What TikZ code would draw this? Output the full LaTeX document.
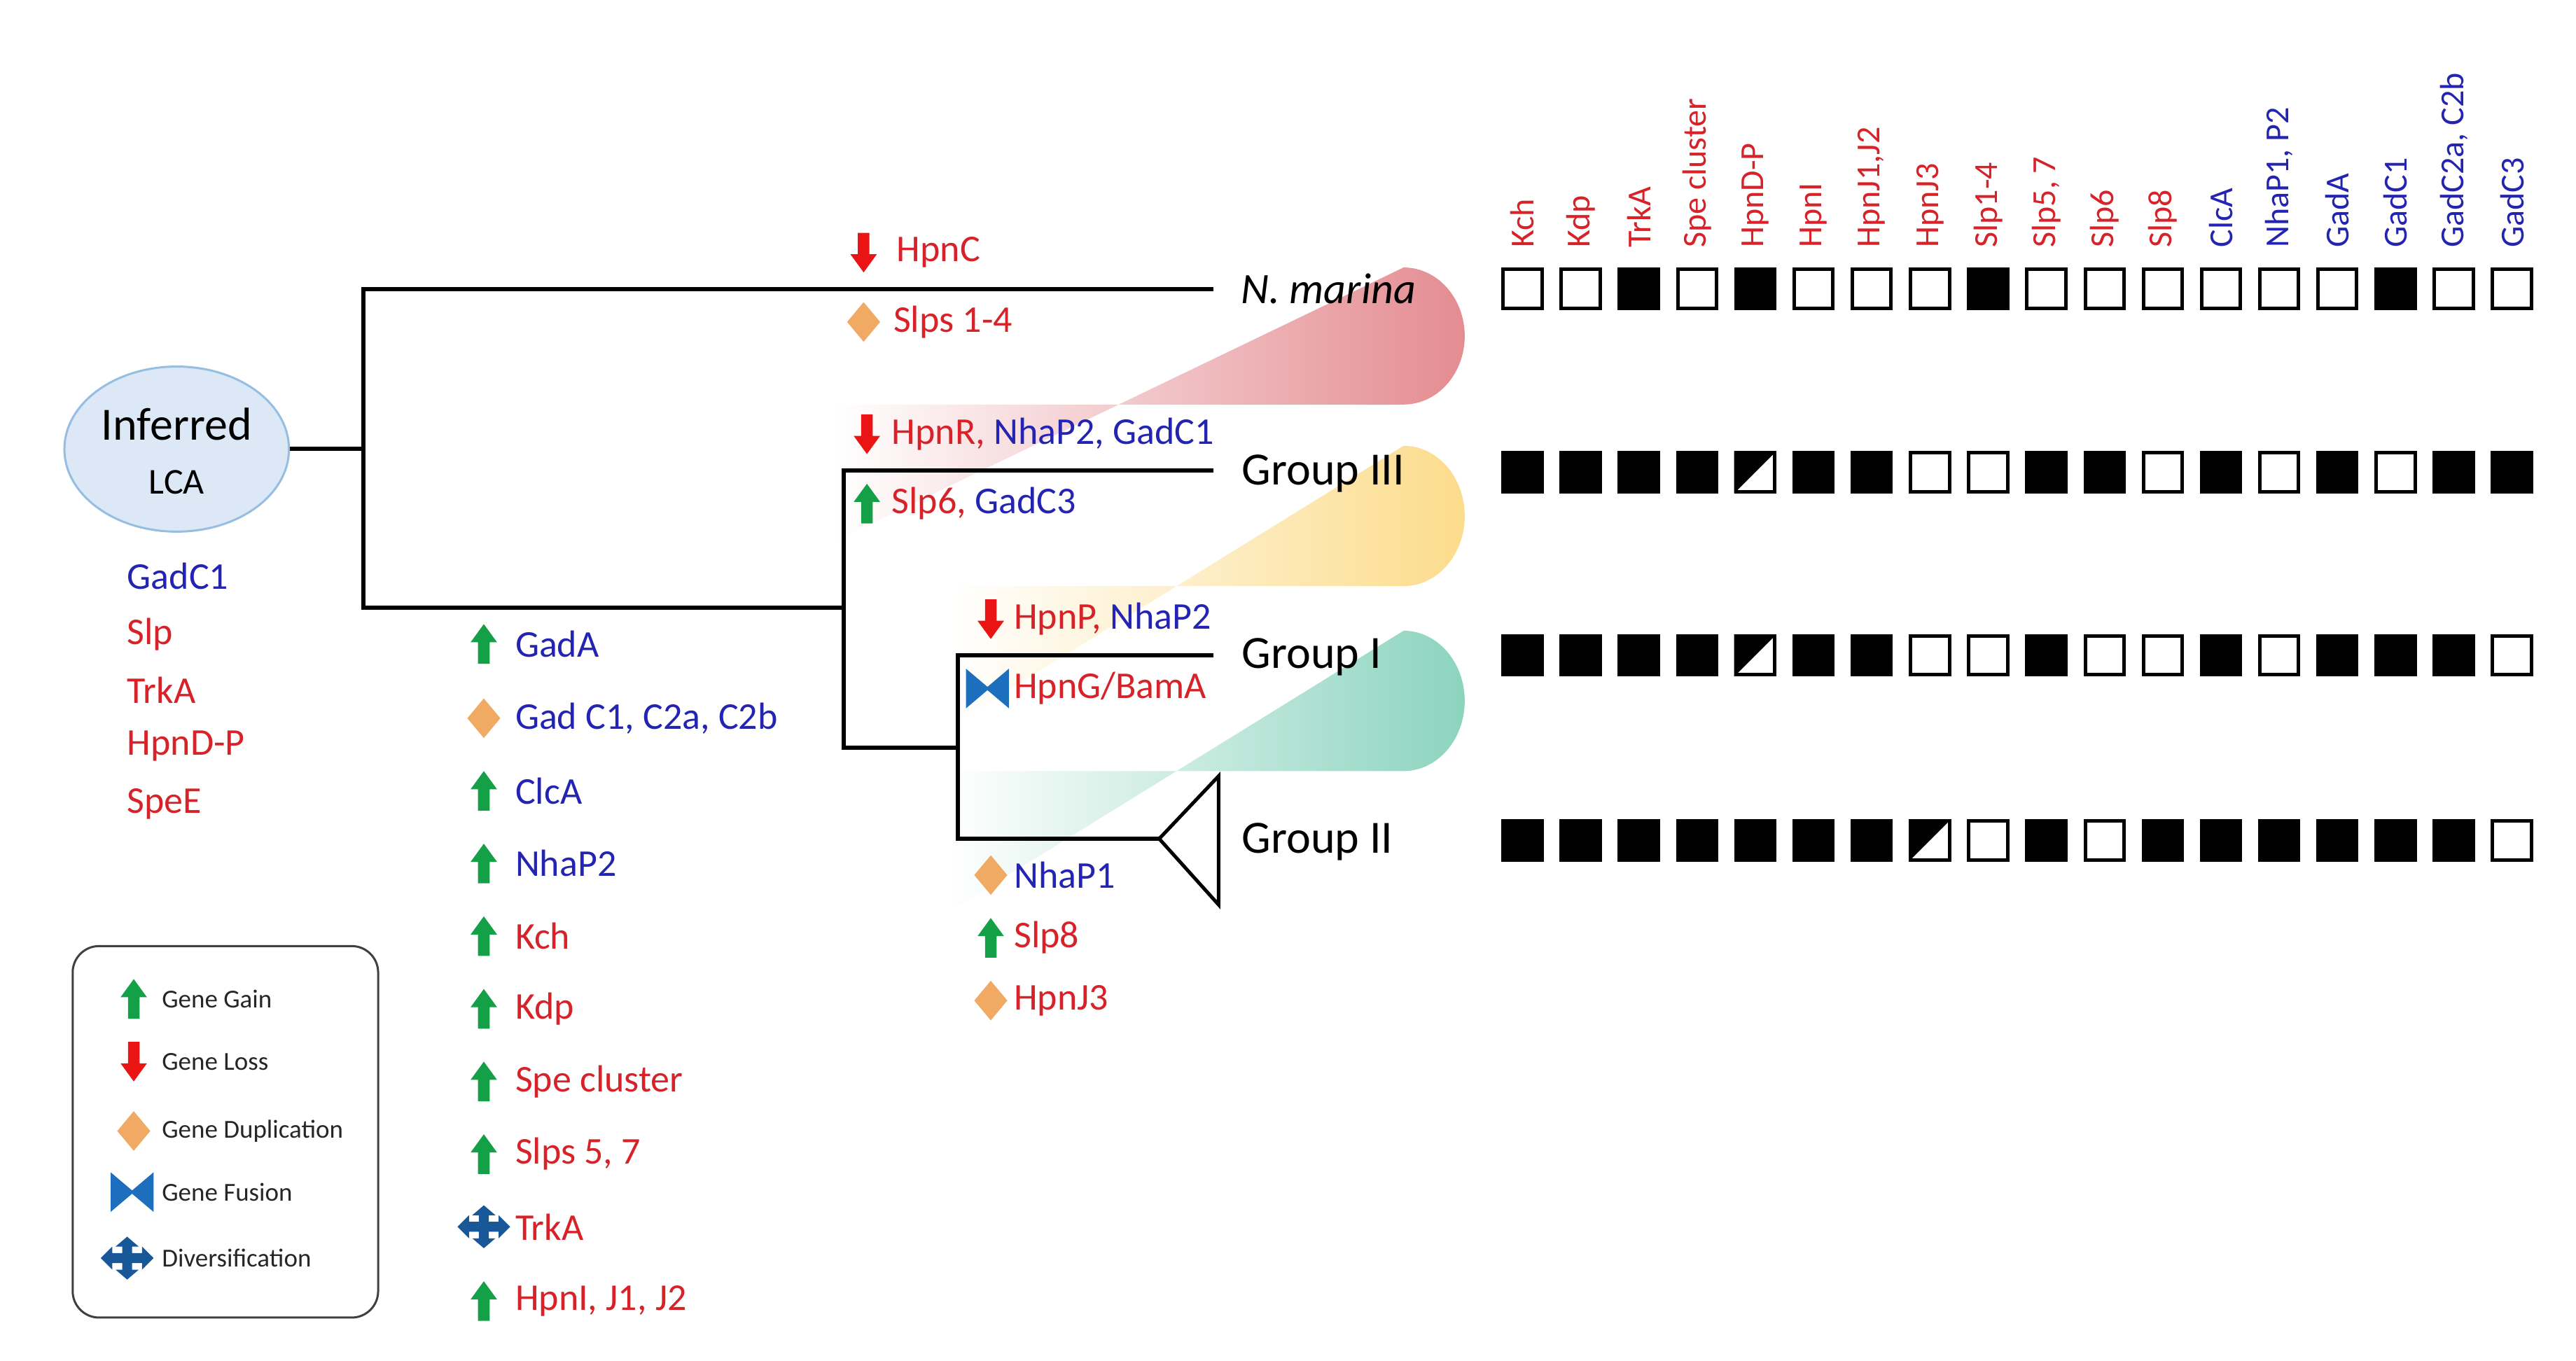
\documentclass[tikz,border=0pt]{standalone}
\usepackage{fontspec}
\setmainfont{Carlito}
\usetikzlibrary{calc,shapes.geometric}
\definecolor{tred}{RGB}{214,34,40}
\definecolor{tblue}{RGB}{36,36,178}
\definecolor{gup}{RGB}{20,160,70}
\definecolor{rdown}{RGB}{235,20,20}
\definecolor{dia}{RGB}{240,170,100}
\definecolor{fus}{RGB}{30,110,190}
\definecolor{pinkg}{RGB}{228,140,145}
\definecolor{yelg}{RGB}{252,220,140}
\definecolor{greg}{RGB}{140,212,190}
\definecolor{lcab}{RGB}{150,190,225}
\definecolor{lcaf}{RGB}{220,232,246}
\begin{document}
\begin{tikzpicture}[x=2.358pt,y=-2.358pt,
  br/.style={line width=6pt},
  lab/.style={font=\fontsize{54}{56}\selectfont,anchor=west,inner sep=0pt},
  grp/.style={font=\fontsize{66}{70}\selectfont,anchor=west,inner sep=0pt},
  hdr/.style={font=\fontsize{48}{50}\selectfont,rotate=90,anchor=west,inner sep=0pt},
  leg/.style={font=\fontsize{37}{40}\selectfont,anchor=west,inner sep=0pt,text=black!85},
  up/.pic={\fill[gup] (-3.5,12)--(3.5,12)--(3.5,-1)--(8,-1)--(0,-12)--(-8,-1)--(-3.5,-1)--cycle;},
  down/.pic={\fill[rdown] (-3.5,-12)--(3.5,-12)--(3.5,1)--(8,1)--(0,12)--(-8,1)--(-3.5,1)--cycle;},
  dup/.pic={\fill[dia] (0,-12)--(10,0)--(0,12)--(-10,0)--cycle;},
  fusion/.pic={\fill[fus] (-13,-12)--(0,-1)--(13,-12)--(13,12)--(0,1)--(-13,12)--cycle;},
  div/.pic={\fill[fus!80!black] (-16,0)--(-9,-7)--(-9,-3)--(-3,-3)--(-3,-7)--(-7,-7)--(0,-13)--(7,-7)--(3,-7)--(3,-3)--(9,-3)--(9,-7)--(16,0)--(9,7)--(9,3)--(3,3)--(3,7)--(7,7)--(0,13)--(-7,7)--(-3,7)--(-3,3)--(-9,3)--(-9,7)--cycle;},
  sq/.style={draw=black,line width=5pt,minimum size=23.5*2.358pt,inner sep=0pt},
  bg/.style={left color=white,right color=#1}
]
\useasboundingbox (0,0) rectangle (1560,824);
% group backgrounds
\shade[bg=pinkg] (505,245) -- (850,245) arc[start angle=90,end angle=-90,x radius=37,y radius=41.5] -- (505,328) -- cycle;
\shade[bg=yelg] (575,355) -- (850,355) arc[start angle=90,end angle=-90,x radius=37,y radius=42.5] -- (575,440) -- cycle;
\shade[bg=greg] (575,467) -- (850,467) arc[start angle=90,end angle=-90,x radius=37,y radius=42.5] -- (575,552) -- cycle;
% LCA
\node[ellipse,draw=lcab,line width=3pt,fill=lcaf,minimum width=136*2.358pt,minimum height=100*2.358pt] (lca) at (107,272) {};
\node[font=\fontsize{66}{68}\selectfont] (inf) at (107,257) {Inferred};
\node[font=\fontsize{52}{54}\selectfont] (lcat) at (107,292) {LCA};
% tree
\coordinate (r) at (220,272);
\coordinate (rt) at (220,175); \coordinate (rb) at (220,368);
\coordinate (nm) at (735,175);
\coordinate (a) at (511,368); \coordinate (at) at (511,285); \coordinate (ab) at (511,453);
\coordinate (g3) at (735,285);
\coordinate (b) at (580,453); \coordinate (bt) at (580,397); \coordinate (bb) at (580,508);
\coordinate (g1) at (735,397);
\coordinate (tri) at (702,508);
\draw[br] (lca.east) -- (r);
\draw[br] (nm) -- (rt) -- (rb) -- (a);
\draw[br] (g3) -- (at) -- (ab) -- (b);
\draw[br] (g1) -- (bt) -- (bb) -- (tri);
\draw[line width=5pt,line join=miter] (tri) -- (738,470) -- (738,548) -- cycle;
\node[font=\fontsize{62}{64}\selectfont\itshape,anchor=west] (nmt) at (750,175) {N. marina};
\node[grp] (g3t) at (752,287) {Group III};
\node[grp] (g1t) at (752,398) {Group I};
\node[grp] (g2t) at (752,510) {Group II};
% annotations
\pic at (523,153) {down}; \node[lab,text=tred] (n1) at (543,153) {HpnC};
\pic at (523,195) {dup}; \node[lab,text=tred] (n2) at (541,195) {Slps 1-4};
\pic at (525,263) {down}; \node[lab] (n3) at (540,263) {\textcolor{tred}{HpnR,} \textcolor{tblue}{NhaP2, GadC1}};
\pic at (525,305) {up}; \node[lab] (n4) at (540,305) {\textcolor{tred}{Slp6,} \textcolor{tblue}{GadC3}};
\pic at (600,375) {down}; \node[lab] (n5) at (614,375) {\textcolor{tred}{HpnP,} \textcolor{tblue}{NhaP2}};
\pic at (598,417) {fusion}; \node[lab,text=tred] (n6) at (614,417) {HpnG/BamA};
\pic at (600,530) {dup}; \node[lab,text=tblue] (n7) at (614,530) {NhaP1};
\pic at (600,568) {up}; \node[lab,text=tred] (n8) at (614,568) {Slp8};
\pic at (600,606) {dup}; \node[lab,text=tred] (n9) at (614,606) {HpnJ3};
% left column
\foreach \y/\p/\c/\t [count=\i] in {390/up/tblue/GadA,435/dup/tblue/{Gad C1, C2a, C2b},479/up/tblue/ClcA,523/up/tblue/NhaP2,567/up/tred/Kch,611/up/tred/Kdp,655/up/tred/Spe cluster,699/up/tred/{Slps 5, 7},743/div/tred/TrkA,788/up/tred/{HpnI, J1, J2}}{
  \pic at (293,\y) {\p};
  \node[lab,text=\c] (c\i) at (312,\y) {\t};
}
% LCA list
\node[lab,text=tblue] (l1) at (77,349) {GadC1};
\node[lab,text=tred] (l2) at (77,384) {Slp};
\node[lab,text=tred] (l3) at (77,418) {TrkA};
\node[lab,text=tred] (l4) at (77,452) {HpnD-P};
\node[lab,text=tred] (l5) at (77,487) {SpeE};
% legend
\draw[line width=3pt,black!75,rounded corners=16*2.358pt] (44,573) rectangle (229,798);
\pic at (81,605) {up}; \node[leg] (e1) at (98,605) {Gene Gain};
\pic at (81,643) {down}; \node[leg] (e2) at (98,643) {Gene Loss};
\pic at (81,685) {dup}; \node[leg] (e3) at (98,685) {Gene Duplication};
\pic at (80,722) {fusion}; \node[leg] (e4) at (98,722) {Gene Fusion};
\pic at (77,762) {div}; \node[leg] (e5) at (98,762) {Diversification};
% headers
\foreach \t/\c [count=\i] in {Kch/tred,Kdp/tred,TrkA/tred,Spe cluster/tred,HpnD-P/tred,HpnI/tred,{HpnJ1,J2}/tred,HpnJ3/tred,Slp1-4/tred,{Slp5, 7}/tred,Slp6/tred,Slp8/tred,ClcA/tblue,{NhaP1, P2}/tblue,GadA/tblue,GadC1/tblue,{GadC2a, C2b}/tblue,GadC3/tblue}{
  \node[hdr,text=\c] (h\i) at ({922+35.25*(\i-1)},150) {\t};
}
% matrix
\foreach \row/\y in {{0,0,1,0,1,0,0,0,1,0,0,0,0,0,0,1,0,0}/175,{1,1,1,1,2,1,1,0,0,1,1,0,1,0,1,0,1,1}/286,{1,1,1,1,2,1,1,0,0,1,0,0,1,0,1,1,1,0}/397,{1,1,1,1,1,1,1,2,0,1,0,1,1,1,1,1,1,0}/509}{
  \foreach \v [count=\i] in \row {
    \pgfmathsetmacro\xx{922+35.25*(\i-1)}
    \ifnum\v=1
      \node[sq,fill=black] at (\xx,\y) {};
    \else
      \node[sq,fill=white] (s) at (\xx,\y) {};
      \ifnum\v=2
        \fill (s.north west) -- (s.north east) -- (s.south west) -- cycle;
      \fi
    \fi
  }
}
\end{tikzpicture}
\end{document}
